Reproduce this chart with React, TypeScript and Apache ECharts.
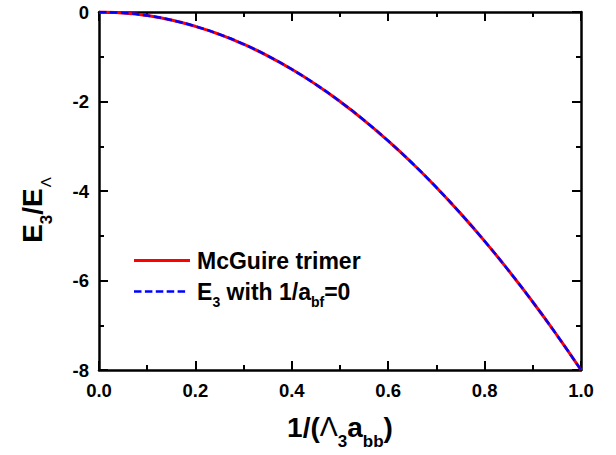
import React, { useEffect, useRef } from "react";
import * as echarts from "echarts";

const xValues = [0, 0.05, 0.1, 0.15, 0.2, 0.25, 0.3, 0.35, 0.4, 0.45, 0.5, 0.55, 0.6, 0.65, 0.7, 0.75, 0.8, 0.85, 0.9, 0.95, 1.0];
const mcguire = [0, -0.02, -0.08, -0.18, -0.32, -0.5, -0.72, -0.98, -1.28, -1.62, -2.0, -2.42, -2.88, -3.38, -3.92, -4.5, -5.12, -5.78, -6.48, -7.22, -8.0];
const e3abf0 = [0, -0.02, -0.08, -0.18, -0.32, -0.5, -0.72, -0.98, -1.28, -1.62, -2.0, -2.42, -2.88, -3.38, -3.92, -4.5, -5.12, -5.78, -6.48, -7.22, -8.0];
const seriesNames = ["McGuire trimer", "E3 with 1/abf=0"];

const FONT = "Liberation Sans, Arial, sans-serif";

export default function App() {
  const ref = useRef<HTMLDivElement>(null);
  useEffect(() => {
    const chart = echarts.init(ref.current!, null, { renderer: "svg" });
    const axisLine = { show: true, onZero: false, lineStyle: { color: "#000", width: 2.5 } };
    const axisTick = { show: true, inside: true, length: 9, lineStyle: { color: "#000", width: 2 } };
    const minorTick = { show: true, splitNumber: 2, length: 5, lineStyle: { color: "#000", width: 2 } };
    const labelStyle = { color: "#000", fontWeight: "bold" as const, fontSize: 18.5, fontFamily: FONT };
    const big = { fontSize: 28, lineHeight: 28, verticalAlign: "top" as const, fontWeight: "bold" as const, fontFamily: FONT, color: "#000" };
    const sub = { fontSize: 17, lineHeight: 17, verticalAlign: "top" as const, fontWeight: "bold" as const, fontFamily: FONT, color: "#000", padding: [20, 0, 0, 0] };
    const lam = { fontSize: 27, lineHeight: 28, verticalAlign: "top" as const, fontFamily: FONT, color: "#000" };
    const lamSub = { fontSize: 15, lineHeight: 15, verticalAlign: "top" as const, fontFamily: FONT, color: "#000", padding: [20, 0, 0, 1] };
    const legBig = { fontSize: 23, lineHeight: 23, verticalAlign: "top" as const, fontWeight: "bold" as const, fontFamily: FONT, color: "#000" };
    const legSub = { fontSize: 14, lineHeight: 14, verticalAlign: "top" as const, fontWeight: "bold" as const, fontFamily: FONT, color: "#000", padding: [15.5, 0, 0, 0] };

    const xy = (ys: number[]) => xValues.map((x, i) => [x, ys[i]]);

    const redIcon = "path://M0,0H56V3H0Z";
    const blueIcon =
      "path://M0,0H7.5V2.6H0Z M10.9,0H18.4V2.6H10.9Z M21.8,0H29.3V2.6H21.8Z M32.7,0H40.2V2.6H32.7Z M43.6,0H51.1V2.6H43.6Z";

    chart.setOption({
      animation: false,
      backgroundColor: "#fff",
      grid: { left: 99, right: 35, top: 12, bottom: 84, containLabel: false },
      legend: [
        {
          data: [{ name: seriesNames[0], icon: redIcon, itemStyle: { color: "#ff0000" } }],
          left: 134,
          top: 249,
          padding: 0,
          itemWidth: 56,
          itemHeight: 3,
          textStyle: { fontSize: 23, fontWeight: "bold", fontFamily: FONT, color: "#000", padding: [0, 0, 0, 2] },
        },
        {
          data: [{ name: seriesNames[1], icon: blueIcon, itemStyle: { color: "#0000ff" } }],
          left: 134,
          top: 280,
          padding: 0,
          itemWidth: 51.1,
          itemHeight: 2.6,
          formatter: () => "{b|E}{s|3}{b| with 1/a}{s|bf}{b|=0}",
          textStyle: { fontSize: 23, fontWeight: "bold", fontFamily: FONT, color: "#000", padding: [0, 0, 0, 7], rich: { b: legBig, s: legSub } },
        },
      ],
      xAxis: [
        {
          type: "value",
          min: 0,
          max: 1,
          interval: 0.2,
          position: "bottom",
          axisLine,
          axisTick,
          minorTick,
          splitLine: { show: false },
          axisLabel: { ...labelStyle, margin: 11, formatter: (v: number) => v.toFixed(1) },
          name: "{b|1/(}{l|Λ}{s|3}{b|a}{s|bb}{b|)}",
          nameLocation: "middle",
          nameGap: 43,
          nameTextStyle: { rich: { b: big, s: sub, l: lam } },
        },
        {
          type: "value",
          min: 0,
          max: 1,
          interval: 0.2,
          position: "top",
          axisLine,
          axisTick,
          minorTick,
          splitLine: { show: false },
          axisLabel: { show: false },
        },
      ],
      yAxis: [
        {
          type: "value",
          min: -8,
          max: 0,
          interval: 2,
          position: "left",
          axisLine,
          axisTick,
          minorTick,
          splitLine: { show: false },
          axisLabel: { ...labelStyle, margin: 10 },
          name: "{b|E}{s|3}{b|/E}{ls|Λ}",
          nameLocation: "middle",
          nameRotate: 90,
          nameGap: 53,
          nameTextStyle: { padding: [0, 38, 0, 0], rich: { b: big, s: sub, ls: lamSub } },
        },
        {
          type: "value",
          min: -8,
          max: 0,
          interval: 2,
          position: "right",
          axisLine,
          axisTick,
          minorTick,
          splitLine: { show: false },
          axisLabel: { show: false },
        },
      ],
      series: [
        {
          name: seriesNames[0],
          type: "line",
          data: xy(mcguire),
          smooth: true,
          symbol: "none",
          lineStyle: { color: "#ff0000", width: 3 },
          itemStyle: { color: "#ff0000" },
        },
        {
          name: seriesNames[1],
          type: "line",
          data: xy(e3abf0),
          smooth: true,
          symbol: "none",
          lineStyle: { color: "#0000ff", width: 2.5, type: [7.5, 3.5] },
          itemStyle: { color: "#0000ff" },
        },
      ],
    });
    return () => chart.dispose();
  }, []);
  return <div ref={ref} style={{ position: "fixed", left: 0, top: 0, width: 616, height: 455 }} />;
}
